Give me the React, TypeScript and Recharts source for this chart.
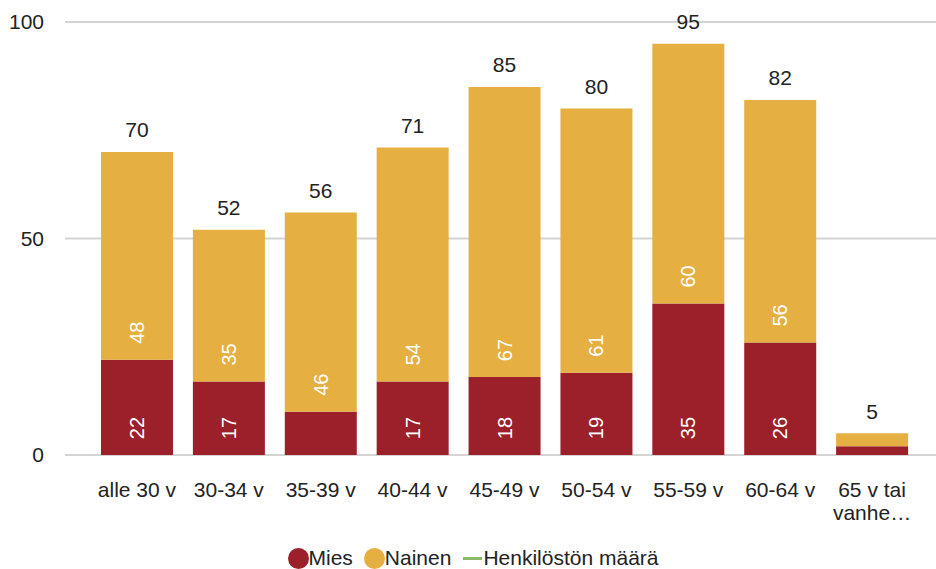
import React from 'react';
import { BarChart, Bar, Line, XAxis, YAxis, CartesianGrid, Legend, LabelList, Text } from 'recharts';

const categories = ['alle 30 v', '30-34 v', '35-39 v', '40-44 v', '45-49 v', '50-54 v', '55-59 v', '60-64 v', '65 v tai vanhe…'];
const mies = [22, 17, 10, 17, 18, 19, 35, 26, 2];
const nainen = [48, 35, 46, 54, 67, 61, 60, 56, 3];
const totals = [70, 52, 56, 71, 85, 80, 95, 82, 5];
const yTicks = [0, 50, 100];
const legendOrder = ['Mies', 'Nainen', 'Henkilöstön määrä'];

const data = categories.map((name, i) => ({ name, mies: mies[i], nainen: nainen[i], total: totals[i] }));

const FONT = '"Liberation Sans", Arial, sans-serif';
const TEXT_COLOR = '#222222';
const MIES_COLOR = '#9B2029';
const NAINEN_COLOR = '#E5AF42';
const LINE_COLOR = '#8DB96A';

const InnerLabel = (props: any) => {
  const { x, y, width, height, value } = props;
  if (height < 50) return null;
  const cx = x + width / 2;
  const cy = y + height - 27;
  return (
    <text
      x={cx}
      y={cy}
      transform={`rotate(-90 ${cx} ${cy})`}
      textAnchor="middle"
      dominantBaseline="central"
      fill="#ffffff"
      fontSize={20}
      fontFamily={FONT}
    >
      {value}
    </text>
  );
};

const TotalLabel = (props: any) => {
  const { x, y, value } = props;
  return (
    <text x={x} y={y - 22} textAnchor="middle" dominantBaseline="central" fill={TEXT_COLOR} fontSize={21} fontFamily={FONT}>
      {value}
    </text>
  );
};

const XTick = (props: any) => {
  const { x, payload } = props;
  return (
    <Text
      x={x}
      y={482}
      width={88}
      textAnchor="middle"
      verticalAnchor="start"
      lineHeight={23}
      fill={TEXT_COLOR}
      fontSize={21}
      fontFamily={FONT}
    >
      {payload.value}
    </Text>
  );
};

const LegendContent = (props: any) => {
  const items = [...(props.payload || [])].sort(
    (a: any, b: any) => legendOrder.indexOf(a.value) - legendOrder.indexOf(b.value)
  );
  return (
    <div style={{ display: 'flex', justifyContent: 'center', alignItems: 'center', fontFamily: FONT, fontSize: 21, color: TEXT_COLOR }}>
      {items.map((entry: any, i: number) => (
        <div key={i} style={{ display: 'flex', alignItems: 'center', marginRight: i < items.length - 1 ? 11 : 0 }}>
          <svg width={21} height={21} style={{ display: 'block' }}>
            {entry.type === 'line' ? (
              <line x1={1} y1={10.5} x2={20} y2={10.5} stroke={LINE_COLOR} strokeWidth={3} />
            ) : (
              <circle cx={10.5} cy={10.5} r={10.5} fill={entry.color} />
            )}
          </svg>
          <span style={{ lineHeight: '24px' }}>{entry.value}</span>
        </div>
      ))}
    </div>
  );
};

export default function App() {
  return (
    <div style={{ position: 'absolute', left: 0, top: 0, width: 936, height: 569, background: '#fff' }}>
      <BarChart width={936} height={569} data={data} margin={{ top: 22, right: 0, left: 0, bottom: 54 }}>
        <CartesianGrid vertical={false} stroke="#d4d4d4" strokeWidth={2} />
        <XAxis
          dataKey="name"
          axisLine={false}
          tickLine={false}
          interval={0}
          height={60}
          padding={{ left: 26, right: 18 }}
          tick={<XTick />}
        />
        <YAxis
          width={65}
          domain={[0, 100]}
          ticks={yTicks}
          axisLine={false}
          tickLine={false}
          tickSize={0}
          tickMargin={21}
          tick={{ fontSize: 21, fill: TEXT_COLOR, fontFamily: FONT }}
        />
        <Legend
          layout="horizontal"
          verticalAlign="middle"
          align="center"
          wrapperStyle={{ top: 546, left: 5, width: 936 }}
          content={<LegendContent />}
        />
        <Bar dataKey="mies" name="Mies" stackId="a" fill={MIES_COLOR} barSize={72} legendType="circle" isAnimationActive={false}>
          <LabelList dataKey="mies" content={<InnerLabel />} />
        </Bar>
        <Bar dataKey="nainen" name="Nainen" stackId="a" fill={NAINEN_COLOR} barSize={72} legendType="circle" isAnimationActive={false}>
          <LabelList dataKey="nainen" content={<InnerLabel />} />
        </Bar>
        <Line
          dataKey="total"
          name="Henkilöstön määrä"
          stroke={LINE_COLOR}
          strokeOpacity={0}
          dot={false}
          activeDot={false}
          legendType="line"
          isAnimationActive={false}
          label={<TotalLabel />}
        />
      </BarChart>
    </div>
  );
}
